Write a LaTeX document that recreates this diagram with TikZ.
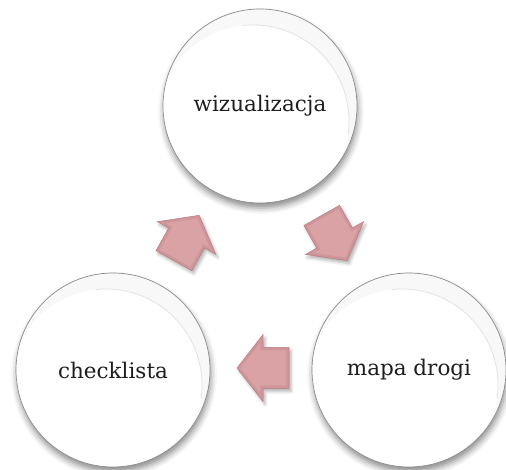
\documentclass[tikz,border=0pt]{standalone}
\usepackage{fontspec}
\setmainfont{DejaVu Serif}
\usetikzlibrary{shadows.blur,calc}

\definecolor{arrowface}{RGB}{219,162,166}
\definecolor{arrowband}{RGB}{208,148,153}
\definecolor{arrowedge}{RGB}{184,126,131}
\definecolor{labeltext}{RGB}{30,30,30}

% white disc with a soft grey rim, slightly darker towards the lower left
\pgfdeclareradialshading{discrim}{\pgfpoint{2bp}{2bp}}{%
  color(0bp)=(white); color(44.5bp)=(white); color(47.5bp)=(black!6);
  color(49.3bp)=(black!18); color(50bp)=(black!40)}

\begin{document}
\begin{tikzpicture}[x=1pt,y=1pt]
\useasboundingbox (0,0) rectangle (506,470);
\tikzset{
  disc/.style={circle, minimum size=194pt, inner sep=0pt, shading=discrim,
    draw=black!45, line width=0.7pt,
    blur shadow={shadow xshift=1pt, shadow yshift=-5pt,
      shadow blur radius=6pt, shadow opacity=45},
    path picture={
      % pale inset band along the upper right
      \fill[black!8, opacity=0.35, even odd rule]
        (path picture bounding box.center) circle (97pt)
        ($(path picture bounding box.center)+(-7pt,-15pt)$) circle (96pt);
      \draw[black!11, line width=0.8pt]
        ($(path picture bounding box.center)+(-7pt,-15pt)$)
        ++(96:96pt) arc (96:-8:96pt);
    },
    font=\fontsize{21.5}{26}\selectfont, text=labeltext},
  arrowbody/.style={fill=arrowband, draw=arrowedge, line width=0.5pt,
    blur shadow={shadow xshift=2pt, shadow yshift=-3pt,
      shadow blur radius=3pt, shadow opacity=30}},
  arrowtop/.style={fill=arrowface, draw=arrowedge!70, line width=0.4pt},
  cyclearrow/.pic={
    \path[arrowbody] (26,0) -- (0,33.5) -- (0,20.5) -- (-26,20.5)
      -- (-26,-20.5) -- (0,-20.5) -- (0,-33.5) -- cycle;
    \path[arrowtop] (22.2,0) -- (3,24.7) -- (3,17.5) -- (-23,17.5)
      -- (-23,-17.5) -- (3,-17.5) -- (3,-24.7) -- cycle;
  }
}

% the three stages of the cycle
\node[disc] (top)   at (260,364) {wizualizacja};
\node[disc] (right) at (409,100) {mapa drogi};
\node[disc] (left)  at (113,100) {checklista};

% block arrows half-way between the discs, pointing along the cycle
\coordinate (m1) at ($(left)!0.5!(top)$);
\coordinate (m2) at ($(top)!0.5!(right)$);
\coordinate (m3) at ($(right)!0.5!(left)+(2,2)$);
\path let \p1=($(top)-(left)$), \n1={atan2(\y1,\x1)} in
  pic[rotate=\n1] (a1) at (m1) {cyclearrow};
\path let \p1=($(right)-(top)$), \n1={atan2(\y1,\x1)} in
  pic[rotate=\n1] (a2) at (m2) {cyclearrow};
\path let \p1=($(left)-(right)$), \n1={atan2(\y1,\x1)} in
  pic[rotate=\n1] (a3) at (m3) {cyclearrow};
\end{tikzpicture}
\end{document}
